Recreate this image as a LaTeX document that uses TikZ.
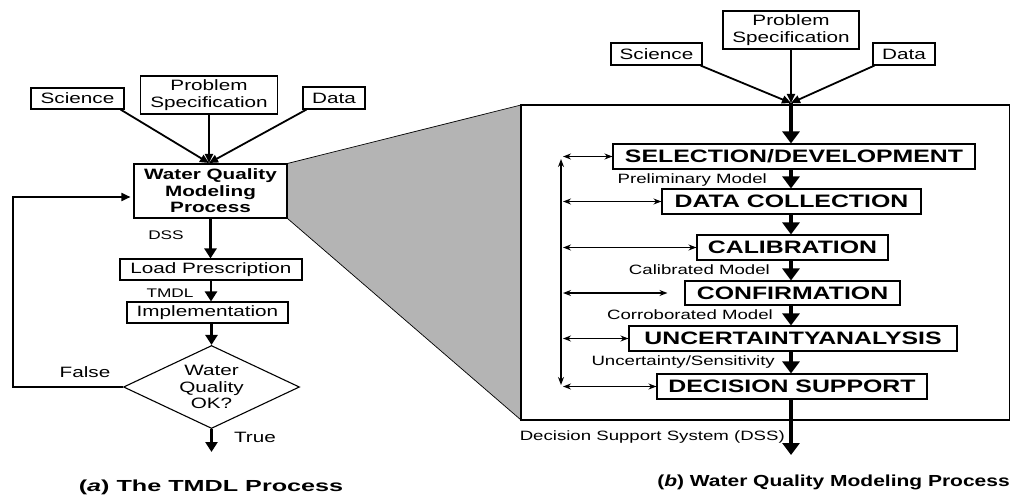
\documentclass[tikz,border=0pt]{standalone}
\usepackage{fontspec}
\setmainfont{Liberation Sans}[FakeStretch=1.38]
\usetikzlibrary{arrows.meta,shapes.geometric,backgrounds}
\definecolor{trap}{RGB}{180,180,180}
\begin{document}
\begin{tikzpicture}[x=1pt,y=-1pt,
  every node/.style={inner sep=0pt, align=center},
  txtA/.style={font=\fontsize{15}{16.5}\selectfont},
  txtAb/.style={font=\fontsize{15}{16.5}\selectfont\bfseries},
  lblS/.style={font=\fontsize{12.5}{14}\selectfont},
  txtB/.style={font=\fontsize{18}{20}\selectfont\bfseries},
  lblB/.style={font=\fontsize{13.5}{15}\selectfont},
  capt/.style={font=\fontsize{16}{18}\selectfont\bfseries},
  bx/.style={draw, line width=1.1pt},
  conv/.style={line width=1.8pt, -{Triangle[length=9pt,width=8pt]}},
  flowL/.style={line width=2.5pt, -{Triangle[length=10pt,width=12pt]}},
  flowR/.style={line width=4pt, -{Triangle[length=12pt,width=17pt]}},
  loopar/.style={line width=1.8pt, -{Triangle[length=9pt,width=8pt]}},
  side/.style={line width=1.3pt, {Stealth[length=8pt,width=6pt]}-{Stealth[length=8pt,width=6pt]}}
]
\useasboundingbox (0,0) rectangle (1011,497);

% ---------- (a) left ----------
\node[bx,txtA,minimum width=93pt,minimum height=21pt] (sciL) at (77.5,98.5) {Science};
\node[bx,txtA,minimum width=137pt,minimum height=38pt] (psL) at (209,95) {Problem\\Specification};
\node[bx,txtA,minimum width=62pt,minimum height=22pt] (dataL) at (334,98) {Data};
\node[bx,txtAb,minimum width=153pt,minimum height=54pt] (wqmp) at (210.5,191) {Water Quality\\Modeling\\Process};
\node[bx,txtA,minimum width=182pt,minimum height=21pt] (load) at (211,269.5) {Load Prescription};
\node[bx,txtA,minimum width=161pt,minimum height=21pt] (impl) at (207.5,312.5) {Implementation};
\node[draw,line width=1.1pt,diamond,aspect=2.12,minimum width=176pt,minimum height=83pt,txtA] (dia) at (211.5,387) {Water\\Quality\\OK?};

\node[lblS] (dss) at (166,235) {DSS};
\node[lblS] (tmdl) at (170,293) {TMDL};
\node[txtA] (false) at (85,372) {False};
\node[txtA] (true) at (255,437) {True};
\node[capt] (capA) at (211,487) {\scalebox{1.14}[1]{(\textit{a}) The TMDL Process}};

\coordinate (convL) at (209,163);
\coordinate (outL) at (211.5,452);
\coordinate (fb1) at (13,387);
\coordinate (fb2) at (13,197);

\draw[conv] ([xshift=-4pt]sciL.south east) -- (convL);
\draw[conv] (psL.south) -- (convL);
\draw[conv] ([xshift=4pt]dataL.south west) -- (convL);
\draw[flowL] (wqmp.south) -- (wqmp.south |- load.north);
\draw[flowL] (load.south) -- (load.south |- impl.north);
\draw[flowL] (impl.south -| dia.north) -- (dia.north);
\draw[flowL] (dia.south) -- (outL);
\draw[loopar] (dia.west) -- (fb1) -- (fb2) -- ([xshift=-3pt]wqmp.west |- fb2);

% ---------- (b) right ----------
\coordinate (bigTL) at (521,105);
\coordinate (bigBR) at (1009.5,420);
\begin{pgfonlayer}{background}
\filldraw[fill=trap, draw=black, line width=0.7pt] (wqmp.north east) -- (bigTL) -- (bigTL |- bigBR) -- (wqmp.south east) -- cycle;
\end{pgfonlayer}
\draw[line width=1.1pt] (bigTL) rectangle (bigBR);

\node[bx,txtA,minimum width=91pt,minimum height=22pt] (sciR) at (656.5,54) {Science};
\node[bx,txtA,minimum width=136pt,minimum height=38pt] (psR) at (791,30) {Problem\\Specification};
\node[bx,txtA,minimum width=62pt,minimum height=22pt] (dataR) at (904,54) {Data};
\coordinate (convR) at (791,103);
\coordinate (outR) at (791,455);

\node[bx,txtB,minimum width=362pt,minimum height=25pt] (sel) at (794,156.5) {SELECTION/DEVELOPMENT};
\node[bx,txtB,minimum width=259pt,minimum height=25pt] (dcol) at (791.5,201.5) {DATA COLLECTION};
\node[bx,txtB,minimum width=191pt,minimum height=25pt] (cal) at (792.5,247.5) {CALIBRATION};
\node[bx,txtB,minimum width=215pt,minimum height=24pt] (conf) at (792.5,293) {CONFIRMATION};
\node[bx,txtB,minimum width=328pt,minimum height=25pt] (unc) at (793,338.5) {UNCERTAINTYANALYSIS};
\node[bx,txtB,minimum width=270pt,minimum height=25pt] (ds) at (792,386.5) {DECISION SUPPORT};

\node[lblB,anchor=east] (lpre) at (767,180) {Preliminary Model};
\node[lblB,anchor=east] (lcal) at (770,270) {Calibrated Model};
\node[lblB,anchor=east] (lcor) at (773,315) {Corroborated Model};
\node[lblB,anchor=east] (lunc) at (775,362) {Uncertainty/Sensitivity};
\node[lblB,anchor=east] (ldss) at (785,437) {Decision Support System (DSS)};
\node[capt] (capB) at (833.5,482) {\scalebox{0.95}[1]{(\textit{b}) Water Quality Modeling Process}};

\draw[conv] ([xshift=-2pt]sciR.south east) -- (convR);
\draw[conv] (psR.south) -- (convR);
\draw[conv] ([xshift=2pt]dataR.south west) -- (convR);

\draw[flowR] (convR) -- (convR |- sel.north);
\draw[flowR] (sel.south -| convR) -- (convR |- dcol.north);
\draw[flowR] (dcol.south -| convR) -- (convR |- cal.north);
\draw[flowR] (cal.south -| convR) -- (convR |- conf.north);
\draw[flowR] (conf.south -| convR) -- (convR |- unc.north);
\draw[flowR] (unc.south -| convR) -- (convR |- ds.north);
\draw[flowR] (ds.south -| convR) -- (outR);

\coordinate (vTop) at (561,159);
\coordinate (vBot) at (561,385);
\coordinate (vx) at (563,0);
\draw[side] (vTop) -- (vBot);
\draw[side] (sel.west -| vx) -- (sel.west);
\draw[side] (dcol.west -| vx) -- (dcol.west);
\draw[side] (cal.west -| vx) -- (cal.west);
\draw[side] (conf.west -| vx) -- ([xshift=-17pt]conf.west);
\draw[side] (unc.west -| vx) -- (unc.west);
\draw[side] (ds.west -| vx) -- (ds.west);
\end{tikzpicture}
\end{document}
